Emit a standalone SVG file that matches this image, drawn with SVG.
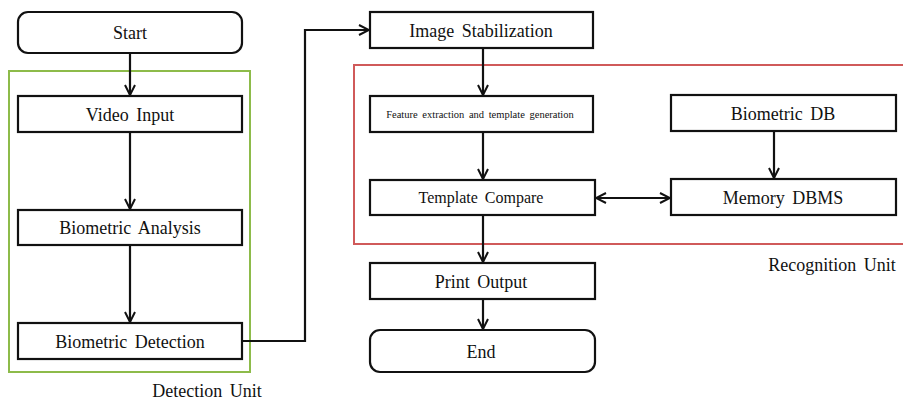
<svg xmlns="http://www.w3.org/2000/svg" width="903" height="401" viewBox="0 0 903 401">
<style>
.box{fill:#fff;stroke:#111;stroke-width:2.2}
.t{font-family:'Liberation Serif','DejaVu Serif',serif;font-size:18px;fill:#111;text-anchor:middle;word-spacing:3px}
.s{font-size:10.5px;word-spacing:2px}
.c{fill:none;stroke:#111;stroke-width:2.2}
</style>
<defs>
<marker id="a" viewBox="0 0 12 12" refX="11" refY="6" markerWidth="12" markerHeight="12" markerUnits="userSpaceOnUse" orient="auto-start-reverse">
<path d="M1,1 L11,6 L1,11" fill="none" stroke="#111" stroke-width="2"/>
</marker>
</defs>
<rect x="9" y="71" width="241" height="301" fill="none" stroke="#8dbb4a" stroke-width="2"/>
<path d="M910,65 H354 V244 H910" fill="none" stroke="#d05a5a" stroke-width="2"/>
<g id="connectors">
<line class="c" x1="130" y1="53" x2="130" y2="95" marker-end="url(#a)"/>
<line class="c" x1="130" y1="132" x2="130" y2="209" marker-end="url(#a)"/>
<line class="c" x1="130" y1="245" x2="130" y2="322" marker-end="url(#a)"/>
<polyline class="c" points="242,341 305,341 305,30 369,30" marker-end="url(#a)"/>
<line class="c" x1="483" y1="48" x2="483" y2="95" marker-end="url(#a)"/>
<line class="c" x1="483" y1="132" x2="483" y2="179" marker-end="url(#a)"/>
<line class="c" x1="483" y1="215" x2="483" y2="262" marker-end="url(#a)"/>
<line class="c" x1="483" y1="299" x2="483" y2="329" marker-end="url(#a)"/>
<line class="c" x1="774" y1="131" x2="774" y2="178" marker-end="url(#a)"/>
<line class="c" x1="596" y1="198" x2="670" y2="198" marker-start="url(#a)" marker-end="url(#a)"/>
</g>
<g id="start"><rect class="box" x="18" y="12" width="224" height="41" rx="10"/><text class="t" x="130" y="39">Start</text></g>
<g id="video-input"><rect class="box" x="18" y="96" width="224" height="36"/><text class="t" x="130" y="121">Video Input</text></g>
<g id="biometric-analysis"><rect class="box" x="18" y="210" width="224" height="35"/><text class="t" x="130" y="234">Biometric Analysis</text></g>
<g id="biometric-detection"><rect class="box" x="18" y="323" width="224" height="36"/><text class="t" x="130" y="348">Biometric Detection</text></g>
<g id="image-stabilization"><rect class="box" x="370" y="12" width="223" height="36"/><text class="t" x="481" y="37">Image Stabilization</text></g>
<g id="feature-extraction"><rect class="box" x="370" y="96" width="223" height="36"/><text class="t s" x="480" y="118">Feature extraction and template generation</text></g>
<g id="template-compare"><rect class="box" x="370" y="180" width="225" height="35"/><text class="t" x="481" y="203" style="font-size:16px">Template Compare</text></g>
<g id="print-output"><rect class="box" x="370" y="263" width="225" height="36"/><text class="t" x="481" y="288">Print Output</text></g>
<g id="end"><rect class="box" x="370" y="330" width="225" height="42" rx="10"/><text class="t" x="481" y="358">End</text></g>
<g id="biometric-db"><rect class="box" x="671" y="95" width="225" height="36"/><text class="t" x="783" y="120">Biometric DB</text></g>
<g id="memory-dbms"><rect class="box" x="671" y="179" width="225" height="36"/><text class="t" x="783" y="204">Memory DBMS</text></g>
<g id="labels">
<text class="t" x="207" y="397">Detection Unit</text>
<text class="t" x="832" y="271">Recognition Unit</text>
</g>
</svg>
